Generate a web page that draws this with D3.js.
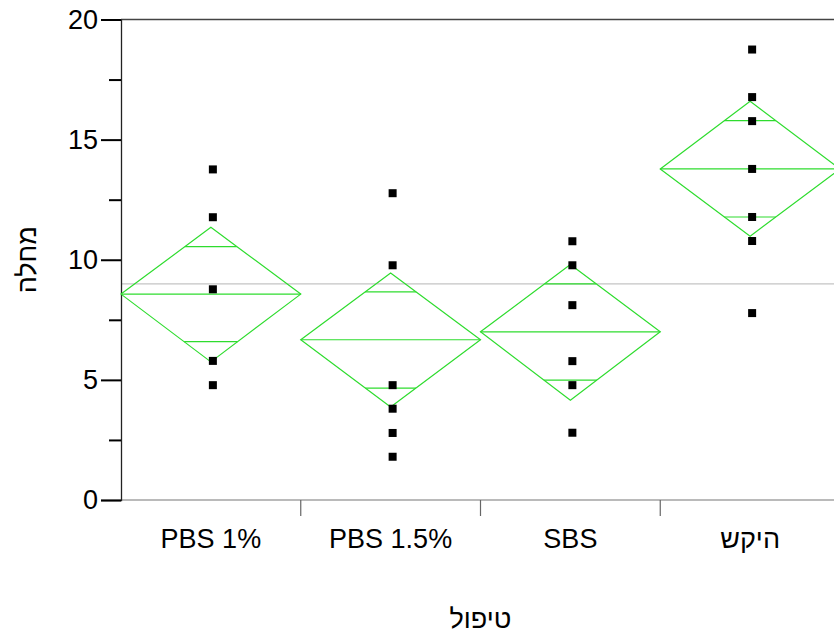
<!DOCTYPE html>
<html>
<head>
<meta charset="utf-8">
<script src="https://cdn.jsdelivr.net/npm/d3@7"></script>
<style>
  html, body { margin: 0; padding: 0; background: #fff; }
  svg { display: block; font-family: "Liberation Sans", Arial, sans-serif; }
</style>
</head>
<body>
<svg id="chart" width="834" height="640"></svg>
<script>
// ---- data ----
const categories = ["PBS 1%", "PBS 1.5%", "SBS", "היקש"];
const means = [8.57, 6.67, 7.0, 13.78];
const ciLow = [5.75, 3.87, 4.15, 10.98];
const ciHigh = [11.35, 9.45, 9.8, 16.6];
const overlapHigh = [10.55, 8.66, 9.0, 15.79];
const overlapLow = [6.59, 4.66, 4.99, 11.78];
const pointsPBS1 = [13.76, 11.77, 8.77, 5.79, 4.78];
const pointsPBS15 = [12.77, 9.77, 4.78, 3.80, 2.79, 1.80];
const pointsSBS = [10.77, 9.77, 8.11, 5.78, 4.78, 2.80];
const pointsHikash = [18.75, 16.77, 15.77, 13.78, 11.78, 10.78, 7.78];
const groupPoints = [pointsPBS1, pointsPBS15, pointsSBS, pointsHikash];
const grandMean = 9.0;
const majorTicks = [0, 5, 10, 15, 20];
const minorTicks = [2.5, 7.5, 12.5, 17.5];
const yTitle = "מחלה";
const xTitle = "טיפול";

(function () {
// ---- layout ----
const svg = d3.select("#chart");
const mLeft = 121, mRight = 840, mTop = 19.5, mBottom = 500;
const x = d3.scaleBand().domain(categories).range([mLeft, mRight]).padding(0);
const y = d3.scaleLinear().domain([0, 20]).range([mBottom, mTop]);
const green = "#2edc2e";

// grand mean line
svg.append("line")
  .attr("x1", mLeft).attr("x2", 834)
  .attr("y1", y(grandMean)).attr("y2", y(grandMean))
  .attr("stroke", "#c4c4c4").attr("stroke-width", 1.2);

// top border
svg.append("line")
  .attr("x1", mLeft).attr("x2", 834)
  .attr("y1", mTop).attr("y2", mTop)
  .attr("stroke", "#444").attr("stroke-width", 1.6);

// x axis line
svg.append("line")
  .attr("x1", mLeft).attr("x2", 834)
  .attr("y1", mBottom).attr("y2", mBottom)
  .attr("stroke", "#777").attr("stroke-width", 1.2);

// x boundary ticks
const bounds = categories.slice(1).map(c => x(c));
svg.selectAll(".xtick").data(bounds).enter().append("line")
  .attr("x1", d => d).attr("x2", d => d)
  .attr("y1", mBottom).attr("y2", mBottom + 16)
  .attr("stroke", "#666").attr("stroke-width", 1.2);

// x labels
svg.selectAll(".xlab").data(categories).enter().append("text")
  .attr("x", d => x(d) + x.bandwidth() / 2)
  .attr("y", 548)
  .attr("text-anchor", "middle")
  .attr("font-size", 27)
  .attr("fill", "#000")
  .text(d => d);

// y axis
const yAxis = d3.axisLeft(y).tickValues(majorTicks).tickSize(20).tickPadding(3).tickFormat(d3.format("d"));
const gy = svg.append("g").attr("transform", `translate(${mLeft},0)`).call(yAxis);
gy.select(".domain").attr("stroke", "#222").attr("stroke-width", 1.3);
gy.selectAll(".tick line").attr("stroke", "#000").attr("stroke-width", 2);
gy.selectAll(".tick text").attr("font-size", 27).attr("fill", "#000")
  .attr("font-family", "Liberation Sans, Arial, sans-serif");

const yMinor = d3.axisLeft(y).tickValues(minorTicks).tickSize(12).tickFormat("");
const gm = svg.append("g").attr("transform", `translate(${mLeft},0)`).call(yMinor);
gm.select(".domain").remove();
gm.selectAll(".tick line").attr("stroke", "#000").attr("stroke-width", 2);

// diamonds
const g = svg.append("g");
categories.forEach((c, i) => {
  const x0 = x(c), x1 = x(c) + x.bandwidth(), xc = x0 + x.bandwidth() / 2;
  const ym = y(means[i]), yt = y(ciHigh[i]), yb = y(ciLow[i]);
  g.append("path")
    .attr("d", `M${x0},${ym}L${xc},${yt}L${x1},${ym}L${xc},${yb}Z`)
    .attr("fill", "none").attr("stroke", green).attr("stroke-width", 1.2);
  g.append("line").attr("x1", x0).attr("x2", x1).attr("y1", ym).attr("y2", ym)
    .attr("stroke", green).attr("stroke-width", 1.2);
  const half = x.bandwidth() / 2;
  [[overlapHigh[i], yt], [overlapLow[i], yb]].forEach(([v, yv]) => {
    const yy = y(v);
    const w = half * (yy - yv) / (ym - yv);
    g.append("line").attr("x1", xc - w).attr("x2", xc + w).attr("y1", yy).attr("y2", yy)
      .attr("stroke", green).attr("stroke-width", 1.2);
  });
});

// points
const ms = 8;
categories.forEach((c, i) => {
  const xc = x(c) + x.bandwidth() / 2 + 2;
  svg.append("g").selectAll("rect").data(groupPoints[i]).enter().append("rect")
    .attr("x", xc - ms / 2).attr("y", d => y(d) - ms / 2)
    .attr("width", ms).attr("height", ms)
    .attr("fill", "#000");
});

// titles
svg.append("text")
  .attr("x", (mLeft + mRight) / 2).attr("y", 628)
  .attr("text-anchor", "middle").attr("font-size", 27).attr("fill", "#000")
  .text(xTitle);
svg.append("text")
  .attr("transform", `translate(36,${(mTop + mBottom) / 2}) rotate(-90)`)
  .attr("text-anchor", "middle").attr("font-size", 27).attr("fill", "#000")
  .text(yTitle);
})();
</script>
</body>
</html>
